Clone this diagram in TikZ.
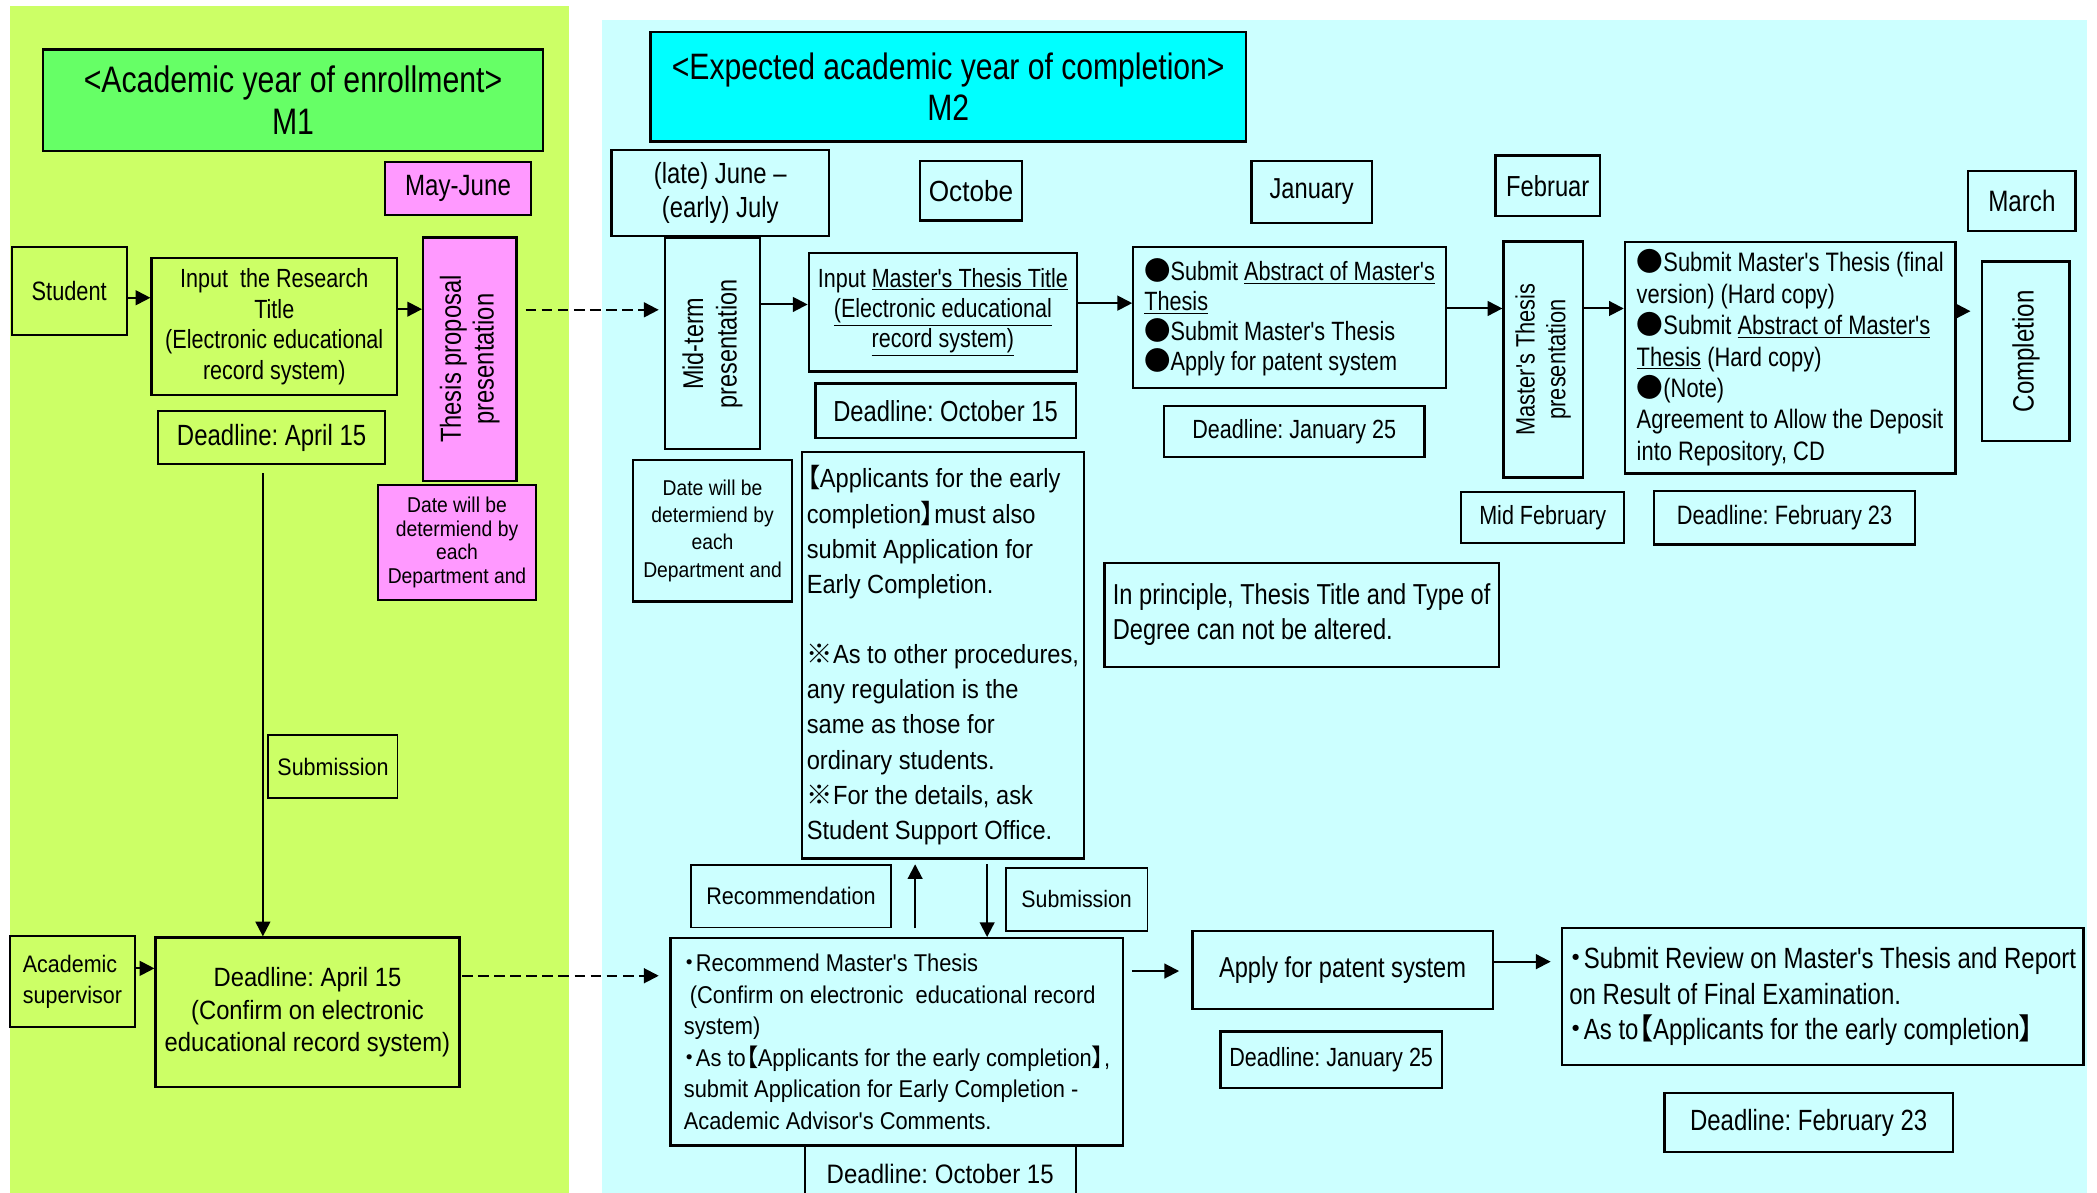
\documentclass[tikz,border=0pt]{standalone}
\usepackage{fontspec}
\setmainfont{Liberation Sans}
\newfontfamily\fnar[FakeStretch=0.82]{Liberation Sans}
\newfontfamily\fmid[FakeStretch=0.9]{Liberation Sans}
\newfontfamily\cjk[RawFeature=+palt]{Noto Sans CJK JP}
\usetikzlibrary{arrows.meta,calc}
\definecolor{gpanel}{HTML}{CCFF66}
\definecolor{cpanel}{HTML}{CCFFFF}
\definecolor{gtitle}{HTML}{66FF66}
\definecolor{ctitle}{HTML}{00FFFF}
\definecolor{pinkbox}{HTML}{FF99FF}
\frenchspacing
\newcommand\fs[2]{\fontsize{#1pt}{#2pt}\selectfont}
\newcommand\myBul{{\cjk ●}}
\newcommand\myDot{{\cjk ・}}
\newcommand\myLB{{\cjk 【}}
\newcommand\myRB{{\cjk 】}}
\newcommand\myKome{{\cjk ※}}
\tikzset{
  bx/.style={draw, line width=1.7pt, inner sep=0pt, align=center},
  arr/.style={line width=1.5pt, -{Triangle[length=11pt,width=11pt]}},
  darr/.style={arr, dash pattern=on 8pt off 4pt},
}
\begin{document}
\begin{tikzpicture}[x=1pt,y=-1pt]
\useasboundingbox (0,0) rectangle (1563.5,888.8);
\fill[white] (0,0) rectangle (1563.5,888.8);
\fill[gpanel] (7.3,4.5) rectangle (424,895);
\fill[cpanel] (449,15) rectangle (1556,895);

% ---------- left panel ----------
\node[bx, fill=gtitle, minimum width=373pt, minimum height=75.5pt, font=\fnar\fs{27.5}{31}] (t1) at (218.5,74.75) {<Academic year of enrollment>\\M1};
\node[bx, fill=pinkbox, minimum width=109pt, minimum height=39.5pt, font=\fnar\fs{21.9}{25}] (may) at (341.5,140.75) {May-June};
\node[bx, minimum width=85.8pt, minimum height=66pt, font=\fnar\fs{19.8}{23}] (stud) at (51.6,217) {Student};
\node[bx, minimum width=183pt, minimum height=102pt, font=\fnar\fs{19.6}{22.7}] (inp) at (204.5,243.5) {Input\ \ the Research\\Title\\(Electronic educational\\record system)};
\node[bx, minimum width=169pt, minimum height=39.5pt, font=\fnar\fs{21.8}{25}] (dl1) at (202.5,326.25) {Deadline: April 15};
\node[bx, fill=pinkbox, rotate=90, minimum width=181.5pt, minimum height=69.5pt, font=\fnar\fs{21.6}{24.5}] (tpp) at (350.25,267.75) {Thesis proposal\\presentation};
\node[bx, fill=pinkbox, minimum width=117.5pt, minimum height=86pt, font=\fmid\fs{16}{17.5}] (date1) at (340.75,404.5) {Date will be\\determiend by\\each\\Department and};
\node[bx, line width=1.2pt, minimum width=96.5pt, minimum height=47pt, font=\fmid\fs{17.8}{21}] (subL) at (248.25,571.5) {Submission};
\node[bx, align=left, minimum width=93.4pt, minimum height=67.6pt, font=\fmid\fs{17.8}{23}] (acad) at (54,731.8) {Academic\\supervisor};
\node[bx, minimum width=226.5pt, minimum height=111.5pt, font=\fmid\fs{19.7}{24.5}] (dl2) at (229.25,754.75) {Deadline: April 15\\(Confirm on electronic\\educational record system)};

% ---------- right panel ----------
\node[bx, fill=ctitle, minimum width=444pt, minimum height=81.9pt, font=\fnar\fs{27.4}{31}] (t2) at (707,64.55) {<Expected academic year of completion>\\M2};
\node[bx, minimum width=162pt, minimum height=64pt, font=\fnar\fs{21.7}{25}] (june) at (537,144) {(late) June –\\(early) July};
\node[bx, minimum width=76pt, minimum height=44.5pt, font=\fmid\fs{21.7}{25}] (oct) at (724,142.25) {Octobe};
\node[bx, minimum width=90pt, minimum height=46pt, font=\fnar\fs{21.5}{25}] (jan) at (978,143) {January};
\node[bx, minimum width=78pt, minimum height=45pt, font=\fnar\fs{21.6}{25}] (feb) at (1154,138.5) {Februar};
\node[bx, minimum width=80pt, minimum height=44.4pt, font=\fnar\fs{22}{25}] (mar) at (1507.5,149.8) {March};
\node[bx, rotate=90, minimum width=157.4pt, minimum height=70.5pt, font=\fnar\fs{21.3}{25}] (mid) at (531.25,256.3) {Mid-term\\presentation};
\node[bx, minimum width=200pt, minimum height=88.5pt, font=\fnar\fs{19.6}{22.5}] (imt) at (703,232.75) {Input \underline{Master's Thesis Title}\\\underline{(Electronic educational}\\\underline{record system)}};
\node[bx, minimum width=194pt, minimum height=40.5pt, font=\fnar\fs{21.6}{25}] (dlo1) at (705,306.25) {Deadline: October 15};
\node[bx, align=left, minimum width=233pt, minimum height=105.5pt, font=\fnar\fs{19.7}{22.4}] (sub1) at (961.5,236.75) {\myBul Submit \underline{Abstract of Master's}\\\underline{Thesis}\\\myBul Submit Master's Thesis\\\myBul Apply for patent system};
\node[bx, minimum width=194pt, minimum height=38pt, font=\fnar\fs{19.6}{24}] (dlj1) at (965,321.5) {Deadline: January 25};
\node[bx, rotate=90, minimum width=176pt, minimum height=59pt, font=\fnar\fs{19.8}{23}] (mtp) at (1150.5,268) {Master's Thesis\\presentation};
\node[bx, align=left, minimum width=246.5pt, minimum height=172.5pt, font=\fnar\fs{19.9}{23.4}] (fin) at (1334.75,266.75) {\myBul Submit Master's Thesis (final\\version) (Hard copy)\\\myBul Submit \underline{Abstract of Master's}\\\underline{Thesis} (Hard copy)\\\myBul(Note)\\Agreement to Allow the Deposit\\into Repository, CD};
\node[bx, rotate=90, minimum width=134pt, minimum height=65pt, font=\fnar\fs{21.9}{25}] (comp) at (1510.5,262) {Completion};
\node[bx, minimum width=121.5pt, minimum height=38pt, font=\fnar\fs{19.6}{23}] (midfeb) at (1150.25,386) {Mid February};
\node[bx, minimum width=195pt, minimum height=40pt, font=\fnar\fs{19.8}{23}] (dlf1) at (1330.5,386) {Deadline: February 23};
\node[bx, minimum width=118.5pt, minimum height=105.5pt, font=\fmid\fs{16}{20.3}] (date2) at (531.25,395.75) {Date will be\\determiend by\\each\\Department and};
\node[bx, align=left, minimum width=210pt, minimum height=303pt, font=\fmid\fs{19.6}{26.2}] (appl) at (703,488.5) {\myLB Applicants for the early\\completion\myRB must also\\submit Application for\\Early Completion.\\[26.2pt]\myKome As to other procedures,\\any regulation is the\\same as those for\\ordinary students.\\\myKome For the details, ask\\Student Support Office.};
\node[bx, align=left, minimum width=294pt, minimum height=78pt, font=\fnar\fs{21.5}{26}] (prin) at (970.5,458.5) {In principle, Thesis Title and Type of\\Degree can not be altered.};
\node[bx, line width=1.2pt, minimum width=149.5pt, minimum height=46.8pt, font=\fmid\fs{17.9}{21}] (recL) at (589.75,668.1) {Recommendation};
\node[bx, line width=1.2pt, minimum width=105.5pt, minimum height=47pt, font=\fmid\fs{17.7}{21}] (subR) at (802.75,670.5) {Submission};
\node[bx, align=left, minimum width=337.5pt, minimum height=154.5pt, font=\fmid\fs{18.1}{23.6}] (rec) at (668.75,776.75) {\myDot Recommend Master's Thesis\\\ (Confirm on electronic\ \ educational record\\system)\\\myDot As to\myLB Applicants for the early completion\myRB,\\submit Application for Early Completion -\\Academic Advisor's Comments.};
\node[bx, minimum width=202pt, minimum height=42pt, font=\fmid\fs{19.9}{23}] (dlo2) at (701,875.5) {Deadline: October 15};
\node[bx, minimum width=224pt, minimum height=58.5pt, font=\fnar\fs{21.5}{25}] (pat) at (1001,723.25) {Apply for patent system};
\node[bx, minimum width=165pt, minimum height=42pt, font=\fnar\fs{19.6}{23}] (dlj2) at (992.5,790) {Deadline: January 25};
\node[bx, align=left, minimum width=389pt, minimum height=102pt, font=\fnar\fs{21.8}{26.5}] (rev) at (1359,743) {\myDot Submit Review on Master's Thesis and Report\\on Result of Final Examination.\\\myDot As to\myLB Applicants for the early completion\myRB};
\node[bx, minimum width=215pt, minimum height=44pt, font=\fnar\fs{21.8}{25}] (dlf2) at (1348.5,837) {Deadline: February 23};

% ---------- connectors ----------
\draw[arr] (stud.east |- 0,222) -- (inp.west |- 0,222);
\draw[arr] (inp.east |- 0,230.5) -- (tpp.north |- 0,230.5);
\draw[darr, shorten <=6pt, shorten >=4pt] (tpp.south |- 0,231) -- (mid.north |- 0,231);
\coordinate (vtop) at ([xshift=-6.5pt,yshift=-6pt]dl1.south);
\draw[arr] (vtop) -- (vtop |- dl2.north);
\draw[arr] (acad.east |- 0,722) -- (dl2.west |- 0,722);
\draw[darr, shorten <=1pt, shorten >=8pt] (dl2.east |- 0,727.5) -- (rec.west |- 0,727.5);

\draw[arr] (mid.south |- 0,227) -- (imt.west |- 0,227);
\draw[arr] (imt.east |- 0,226) -- (sub1.west |- 0,226);
\draw[arr] (sub1.east |- 0,230) -- (mtp.north |- 0,230);
\draw[arr] (mtp.south |- 0,230) -- (fin.west |- 0,230);
\draw[arr, shorten >=8pt] (fin.east |- 0,232) -- (comp.north |- 0,232);

\draw[arr, shorten <=6.5pt, shorten >=3.5pt] (rec.north -| 682.3,0) -- (appl.south -| 682.3,0);
\draw[arr, shorten <=3.5pt] (appl.south -| 736,0) -- (rec.north -| 736,0);
\draw[arr, shorten <=5.5pt, shorten >=9pt] (rec.east |- 0,724) -- (pat.west |- 0,724);
\draw[arr, shorten >=7.5pt] (pat.east |- 0,717) -- (rev.west |- 0,717);
\end{tikzpicture}
\end{document}
